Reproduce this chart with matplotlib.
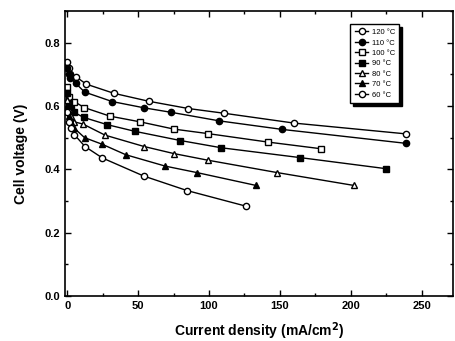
import matplotlib
matplotlib.use('Agg')
import matplotlib.pyplot as plt
from matplotlib.ticker import MultipleLocator

plt.rcParams['font.family'] = ['Liberation Sans', 'DejaVu Sans']

# Polarization curves at different cell temperatures
temps = ['120 \u00b0C', '110 \u00b0C', '100 \u00b0C', '90 \u00b0C', '80 \u00b0C', '70 \u00b0C', '60 \u00b0C']

x_120 = [0, 1, 2, 6, 13.5, 33, 57.5, 85.5, 110.8, 160, 238.8]
y_120 = [0.74, 0.72, 0.70, 0.693, 0.669, 0.64, 0.615, 0.592, 0.577, 0.546, 0.512]

x_110 = [0, 1, 2, 6, 12.3, 31.8, 54.5, 73.4, 107.3, 151.7, 239]
y_110 = [0.72, 0.70, 0.69, 0.672, 0.644, 0.614, 0.594, 0.58, 0.553, 0.526, 0.482]

x_100 = [0, 1, 2, 5, 12.1, 30.1, 51.4, 75.3, 99, 141.7, 179]
y_100 = [0.66, 0.63, 0.61, 0.614, 0.595, 0.568, 0.55, 0.527, 0.513, 0.486, 0.465]

x_90 = [0, 1, 2.5, 5, 11.6, 28.3, 47.8, 79.8, 108.8, 164.3, 224.9]
y_90 = [0.64, 0.61, 0.59, 0.58, 0.564, 0.541, 0.52, 0.491, 0.468, 0.437, 0.402]

x_80 = [0, 1, 2.5, 5, 11.2, 26.7, 54.3, 75, 99, 147.7, 202.3]
y_80 = [0.62, 0.59, 0.57, 0.55, 0.543, 0.508, 0.472, 0.45, 0.429, 0.39, 0.349]

x_70 = [0, 1, 2.5, 5, 12.3, 24.8, 41.4, 69.3, 91.2, 133.3]
y_70 = [0.60, 0.57, 0.55, 0.53, 0.50, 0.479, 0.446, 0.41, 0.39, 0.349]

x_60 = [0, 1, 2.5, 5, 12.6, 24.8, 53.9, 84.5, 125.8]
y_60 = [0.58, 0.55, 0.53, 0.51, 0.472, 0.436, 0.379, 0.333, 0.284]

xs = [x_120, x_110, x_100, x_90, x_80, x_70, x_60]
ys = [y_120, y_110, y_100, y_90, y_80, y_70, y_60]
markers = ['o', 'o', 's', 's', '^', '^', 'o']
filled = [False, True, False, True, False, True, False]

fig = plt.figure(figsize=(4.56, 3.41), dpi=100)
ax = fig.add_axes([65 / 456, 1 - 296 / 341, 388 / 456, 285 / 341])

for x, y, m, f, lab in zip(xs, ys, markers, filled, temps):
    ax.plot(x, y, color='black', linewidth=1.0, marker=m, markersize=4.5,
            markerfacecolor='black' if f else 'white', markeredgecolor='black',
            markeredgewidth=1.0, label=lab)

ax.set_xlim(-1.5, 272)
ax.set_ylim(0, 0.9)
ax.xaxis.set_major_locator(MultipleLocator(50))
ax.xaxis.set_minor_locator(MultipleLocator(25))
ax.yaxis.set_minor_locator(MultipleLocator(0.1))
ax.set_yticks([0.0, 0.2, 0.4, 0.6, 0.8])
ax.set_yticklabels(['0.0', '0.2', '0.4', '0.6', '0.8'])
ax.tick_params(which='both', direction='in', top=True, right=True, width=1.0)
ax.tick_params(which='major', length=4, labelsize=8)
ax.tick_params(which='minor', length=2)
for lbl in ax.get_xticklabels() + ax.get_yticklabels():
    lbl.set_fontweight('bold')
for s in ax.spines.values():
    s.set_linewidth(1.2)

ax.set_xlabel('Current density (mA/cm$^\\mathbf{2}$)', fontsize=10, fontweight='bold', labelpad=7)
ax.set_ylabel('Cell voltage (V)', fontsize=10, fontweight='bold', labelpad=12)

leg = ax.legend(loc='upper left', bbox_to_anchor=(0.725, 0.967), fontsize=5.5,
                frameon=True, shadow={'color': 'black', 'alpha': 1.0}, fancybox=False,
                handlelength=1.8, borderpad=0.6, labelspacing=0.4, handletextpad=0.4)
leg.get_frame().set_edgecolor('black')
leg.get_frame().set_linewidth(1.0)

fig.savefig('out.png', dpi=100)
